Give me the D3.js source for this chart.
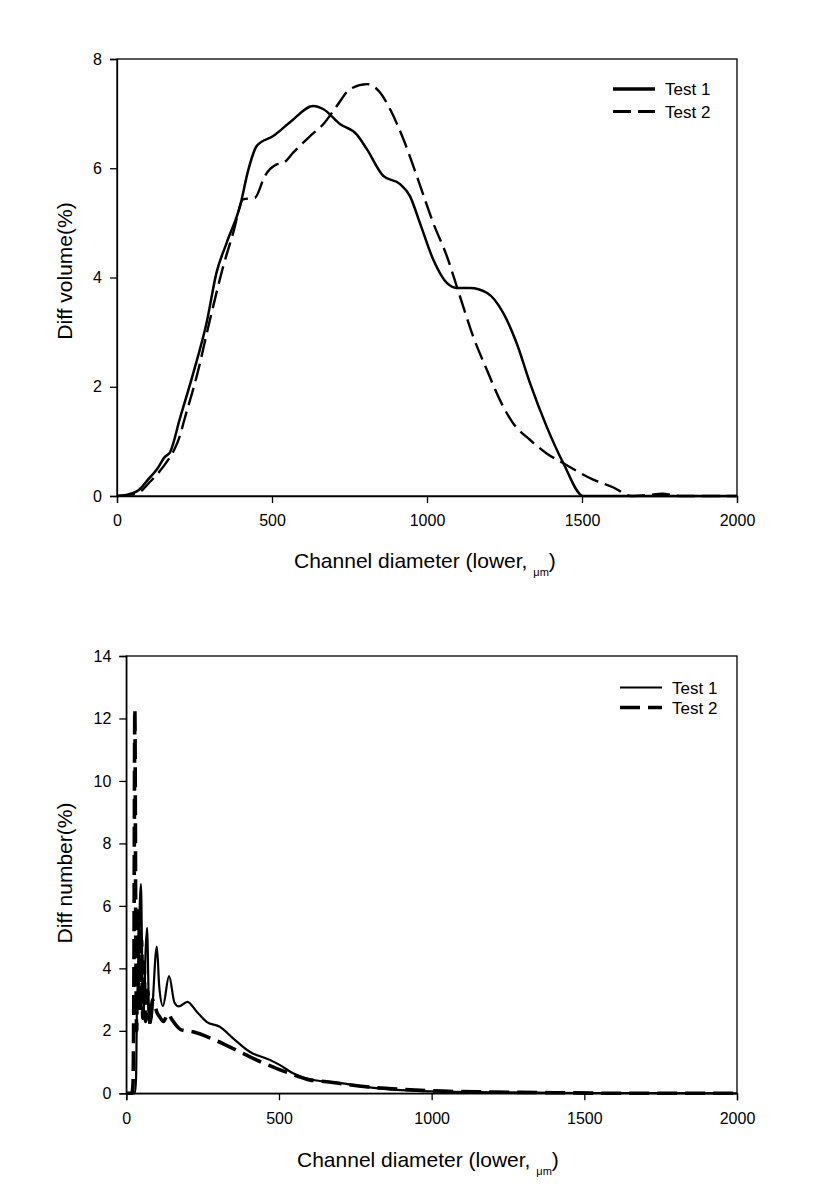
<!DOCTYPE html>
<html>
<head>
<meta charset="utf-8">
<script src="https://cdn.jsdelivr.net/npm/d3@7"></script>
<style>
  html, body { margin: 0; padding: 0; background: #fff; }
  svg { display: block; }
  text { font-family: "Liberation Sans", Arial, sans-serif; fill: #000; }
</style>
</head>
<body>
<svg id="chart" width="813" height="1188"></svg>
<script>
// ---------- Data ----------
const xTicks = [0, 500, 1000, 1500, 2000];
const yTicksTop = [0, 2, 4, 6, 8];
const yTicksBottom = [0, 2, 4, 6, 8, 10, 12, 14];
const seriesNames = ["Test 1", "Test 2"];

// Top chart: Diff volume (%)
const diamVolTest1 = [0, 30, 50, 68, 100, 130, 155, 171, 203, 246, 289, 321, 354, 397, 424, 451, 504, 558, 633, 666, 719, 773, 806, 859, 913, 945, 977, 1020, 1064, 1096, 1139, 1193, 1246, 1289, 1332, 1386, 1440, 1504, 1600, 2000];
const volTest1 = [0, 0.02, 0.05, 0.1, 0.3, 0.5, 0.72, 0.8, 1.42, 2.25, 3.17, 4.09, 4.64, 5.31, 5.98, 6.41, 6.59, 6.84, 7.14, 7.08, 6.81, 6.62, 6.35, 5.86, 5.71, 5.49, 5.0, 4.33, 3.9, 3.81, 3.81, 3.72, 3.35, 2.8, 2.07, 1.27, 0.6, 0, 0, 0];
const diamVolTest2 = [0, 50, 80, 100, 130, 165, 185, 203, 215, 257, 300, 343, 375, 407, 445, 477, 515, 537, 569, 623, 666, 709, 752, 806, 848, 881, 924, 967, 1020, 1064, 1106, 1149, 1193, 1235, 1278, 1332, 1386, 1440, 1536, 1600, 1660, 1700, 1760, 1820, 2000];
const volTest2 = [0, 0.03, 0.1, 0.22, 0.4, 0.66, 0.85, 1.1, 1.35, 2.19, 3.23, 4.21, 4.82, 5.43, 5.46, 5.86, 6.07, 6.1, 6.29, 6.59, 6.81, 7.14, 7.45, 7.54, 7.39, 7.08, 6.53, 5.86, 5.0, 4.39, 3.66, 2.92, 2.31, 1.76, 1.33, 1.03, 0.78, 0.6, 0.3, 0.16, 0, 0.01, 0.04, 0, 0];

// Bottom chart: Diff number (%)
const diamNumTest1 = [0, 28, 32, 36, 40, 44, 48, 53, 58, 63, 68, 75, 80, 100, 108, 120, 140, 158, 172, 200, 230, 263, 306, 350, 404, 470, 502, 546, 600, 709, 796, 900, 1000, 1200, 1500, 2000];
const numTest1 = [0, 0, 0.5, 3.5, 3.0, 6.0, 6.7, 3.5, 2.6, 4.5, 5.3, 2.4, 2.25, 4.7, 3.4, 2.8, 3.75, 2.9, 2.78, 2.93, 2.62, 2.29, 2.13, 1.76, 1.33, 1.07, 0.91, 0.64, 0.45, 0.32, 0.19, 0.1, 0.06, 0.03, 0.01, 0];
const diamNumTest2 = [0, 18, 22, 25, 28, 31, 34, 37, 40, 43, 46, 50, 54, 58, 63, 70, 78, 86, 93, 100, 109, 122, 136, 150, 180, 218, 289, 321, 392, 426, 491, 535, 600, 655, 786, 900, 1000, 1200, 1400, 1600, 2000];
const numTest2 = [0, 0, 0.3, 4.0, 12.3, 5.0, 2.0, 6.0, 3.0, 5.8, 2.6, 4.9, 2.4, 4.2, 2.3, 3.3, 2.2, 3.0, 2.83, 2.6, 2.45, 2.3, 2.55, 2.35, 2.03, 1.97, 1.71, 1.57, 1.23, 1.07, 0.80, 0.64, 0.43, 0.37, 0.21, 0.13, 0.08, 0.04, 0.02, 0, 0];

const svg = d3.select("#chart");
svg.append("rect").attr("width", 813).attr("height", 1188).attr("fill", "#fff");

function drawPanel(cfg) {
  const x = d3.scaleLinear().domain([0, 2000]).range([cfg.left, cfg.right]);
  const y = d3.scaleLinear().domain([0, cfg.ymax]).range([cfg.bottom, cfg.top]);
  const g = svg.append("g");

  // frame
  g.append("rect")
    .attr("x", cfg.left).attr("y", cfg.top)
    .attr("width", cfg.right - cfg.left).attr("height", cfg.bottom - cfg.top)
    .attr("fill", "none").attr("stroke", "#000").attr("stroke-width", 1.3);

  const xAxis = g.append("g")
    .attr("transform", `translate(0,${cfg.bottom})`)
    .call(d3.axisBottom(x).tickValues(xTicks).tickSize(7).tickPadding(12).tickFormat(d3.format("d")));
  const yAxis = g.append("g")
    .attr("transform", `translate(${cfg.left},0)`)
    .call(d3.axisLeft(y).tickValues(cfg.yTicks).tickSize(7).tickPadding(8).tickFormat(d3.format("d")));
  [xAxis, yAxis].forEach(a => {
    a.select(".domain").attr("stroke", "#000").attr("stroke-width", 1.3);
    a.selectAll(".tick line").attr("stroke", "#000").attr("stroke-width", 1.3);
    a.selectAll(".tick text").attr("font-size", 16).attr("font-family", "Liberation Sans, Arial, sans-serif").attr("fill", "#000");
  });

  const line = d3.line().x(d => x(d[0])).y(d => y(d[1])).curve(d3.curveMonotoneX);

  cfg.series.forEach(s => {
    const pts = s.xs.map((d, i) => [d, s.ys[i]]);
    g.append("path").datum(pts)
      .attr("d", line)
      .attr("fill", "none").attr("stroke", "#000")
      .attr("stroke-width", s.width)
      .attr("stroke-dasharray", s.dash || null)
      .attr("stroke-linejoin", "round");
  });

  // legend
  cfg.series.forEach((s, i) => {
    const ly = cfg.legendY + i * cfg.legendGap;
    g.append("line")
      .attr("x1", cfg.legendX).attr("x2", cfg.legendX + 42)
      .attr("y1", ly).attr("y2", ly)
      .attr("stroke", "#000").attr("stroke-width", s.legendWidth)
      .attr("stroke-dasharray", s.dash || null);
    g.append("text")
      .attr("x", cfg.legendX + 52).attr("y", ly + 6)
      .attr("font-size", 17)
      .text(seriesNames[i]);
  });

  // x title
  const xt = g.append("text")
    .attr("x", cfg.xTitleX).attr("y", cfg.xTitleY)
    .attr("font-size", 21);
  xt.append("tspan").text("Channel diameter (lower, ");
  xt.append("tspan").attr("font-size", 11).attr("dy", 8).text("\u03bcm");
  xt.append("tspan").attr("dy", -8).text(")");

  // y title
  g.append("text")
    .attr("transform", `translate(${cfg.yTitleX},${cfg.yTitleY}) rotate(-90)`)
    .attr("text-anchor", "middle")
    .attr("font-size", 21)
    .text(cfg.yTitle);
}

drawPanel({
  left: 117, right: 737, top: 59, bottom: 496, ymax: 8, yTicks: yTicksTop,
  yTitle: "Diff volume(%)", yTitleX: 72, yTitleY: 271,
  xTitleX: 294, xTitleY: 568,
  legendX: 613, legendY: 89, legendGap: 22.5,
  series: [
    { xs: diamVolTest1, ys: volTest1, width: 2.5, legendWidth: 3.4 },
    { xs: diamVolTest2, ys: volTest2, width: 2.4, legendWidth: 2.8, dash: "18,7" }
  ]
});

drawPanel({
  left: 126.3, right: 737, top: 656, bottom: 1093.3, ymax: 14, yTicks: yTicksBottom,
  yTitle: "Diff number(%)", yTitleX: 72, yTitleY: 873,
  xTitleX: 297, xTitleY: 1166.5,
  legendX: 620, legendY: 687.5, legendGap: 20,
  series: [
    { xs: diamNumTest1, ys: numTest1, width: 2.2, legendWidth: 2.2 },
    { xs: diamNumTest2, ys: numTest2, width: 3.6, legendWidth: 3.6, dash: "20,8" }
  ]
});
</script>
</body>
</html>
